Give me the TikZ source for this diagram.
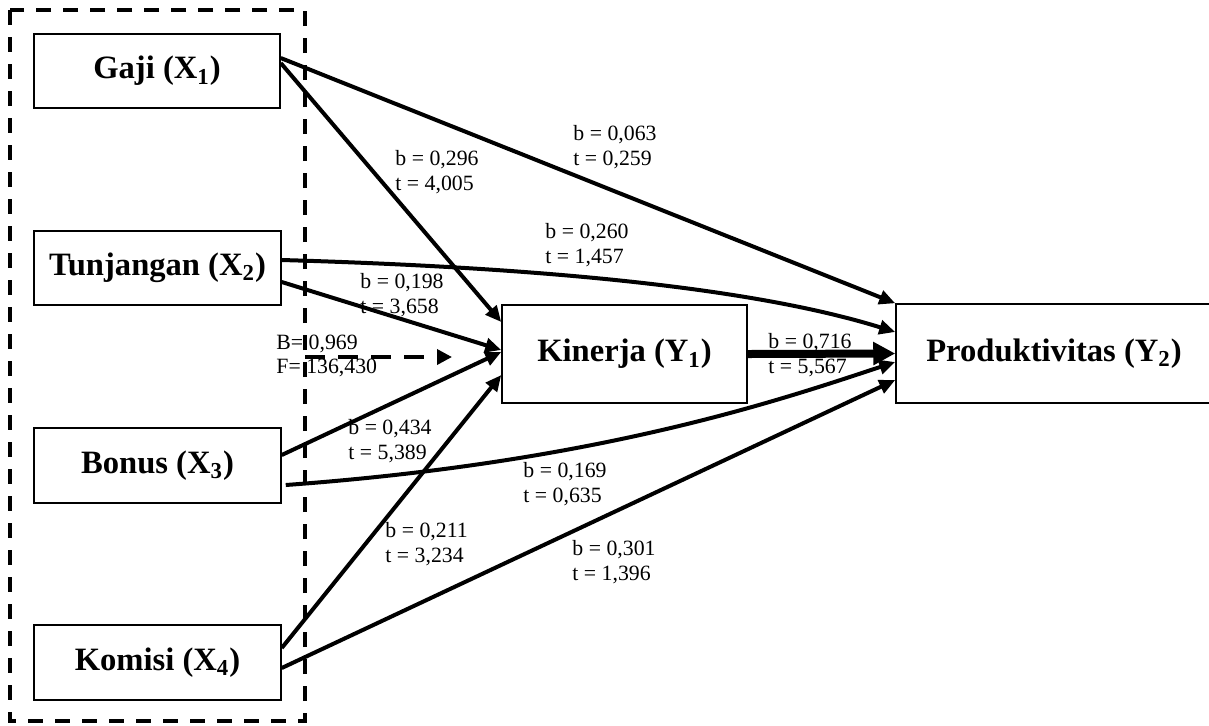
\documentclass[tikz,border=0pt]{standalone}
\usepackage{fontspec}
\setmainfont{Liberation Serif}
\usetikzlibrary{arrows.meta}
\begin{document}
\begin{tikzpicture}[x=0.5pt,y=-0.5pt,
  box/.style={draw, line width=0.75pt, inner sep=0pt, font=\fontsize{16.3}{19}\selectfont\bfseries},
  lbl/.style={anchor=west, align=left, inner sep=0pt, font=\fontsize{10.9}{12.4}\selectfont},
  arr/.style={line width=2pt, -{Triangle[length=8pt,width=7pt]}},
  thickarr/.style={line width=4pt, -{Triangle[length=11pt,width=11pt]}},
  dasharr/.style={line width=1.75pt, dash pattern=on 10pt off 6.5pt, -{Triangle[length=7.5pt,width=7.5pt]}},
  groupbox/.style={line width=1.75pt, dash pattern=on 7.5pt off 6pt}]
\useasboundingbox (0,0) rectangle (1209,725);
% dashed group
\draw[groupbox] (10,10) rectangle (305,721);
% boxes
\node[box, minimum width=123pt, minimum height=37pt] (gaji) at (157,71) {Gaji (X\textsubscript{1})};
\node[box, minimum width=123.5pt, minimum height=37pt] (tun) at (157.5,268) {Tunjangan (X\textsubscript{2})};
\node[box, minimum width=123.5pt, minimum height=37.5pt] (bon) at (157.5,465.5) {Bonus (X\textsubscript{3})};
\node[box, minimum width=123.5pt, minimum height=37.5pt] (kom) at (157.5,662.5) {Komisi (X\textsubscript{4})};
\node[box, minimum width=122.5pt, minimum height=49pt] (kin) at (624.5,354) {Kinerja (Y\textsubscript{1})};
\node[box, minimum width=158pt, minimum height=49.5pt] (prod) at (1054,353.5) {Produktivitas (Y\textsubscript{2})};
% coordinates for dashed arrow
\coordinate (dA) at (305,357);
\coordinate (dB) at (452,357);
% connectors
\draw[arr] ([yshift=6.5pt]gaji.east) -- (prod.north west);
\draw[arr] ([yshift=4pt]gaji.east) -- ([yshift=16pt]kin.west);
\draw[arr] ([yshift=4pt]tun.east) .. controls (560,268) and (760,290) .. ([yshift=10.75pt]prod.west);
\draw[arr] ([yshift=-7pt]tun.east) -- ([yshift=2pt]kin.west);
\draw[dasharr] (dA) -- (dB);
\draw[arr] ([yshift=5.25pt]bon.east) -- ([yshift=1pt]kin.west);
\draw[arr] ([xshift=2pt,yshift=-9.75pt]bon.east) .. controls (600,462) and (780,400) .. ([yshift=-4.25pt]prod.west);
\draw[arr] ([yshift=7.25pt]kom.east) -- ([yshift=-10.5pt]kin.west);
\draw[arr] ([yshift=-2.75pt]kom.east) -- ([yshift=-13.25pt]prod.west);
\draw[thickarr] (kin.east) -- (prod.west);
% labels
\node[lbl] (l1) at (395,172) {b = 0,296\\t = 4,005};
\node[lbl] (l2) at (573,147) {b = 0,063\\t = 0,259};
\node[lbl] (l3) at (545,245) {b = 0,260\\t = 1,457};
\node[lbl] (l4) at (360,295) {b = 0,198\\t = 3,658};
\node[lbl] (l5) at (276,356) {B= 0,969\\F= 136,430};
\node[lbl] (l6) at (768,355) {b = 0,716\\t = 5,567};
\node[lbl] (l7) at (348,441) {b = 0,434\\t = 5,389};
\node[lbl] (l8) at (523,484) {b = 0,169\\t = 0,635};
\node[lbl] (l9) at (385,544) {b = 0,211\\t = 3,234};
\node[lbl] (l10) at (572,562) {b = 0,301\\t = 1,396};
\end{tikzpicture}
\end{document}
